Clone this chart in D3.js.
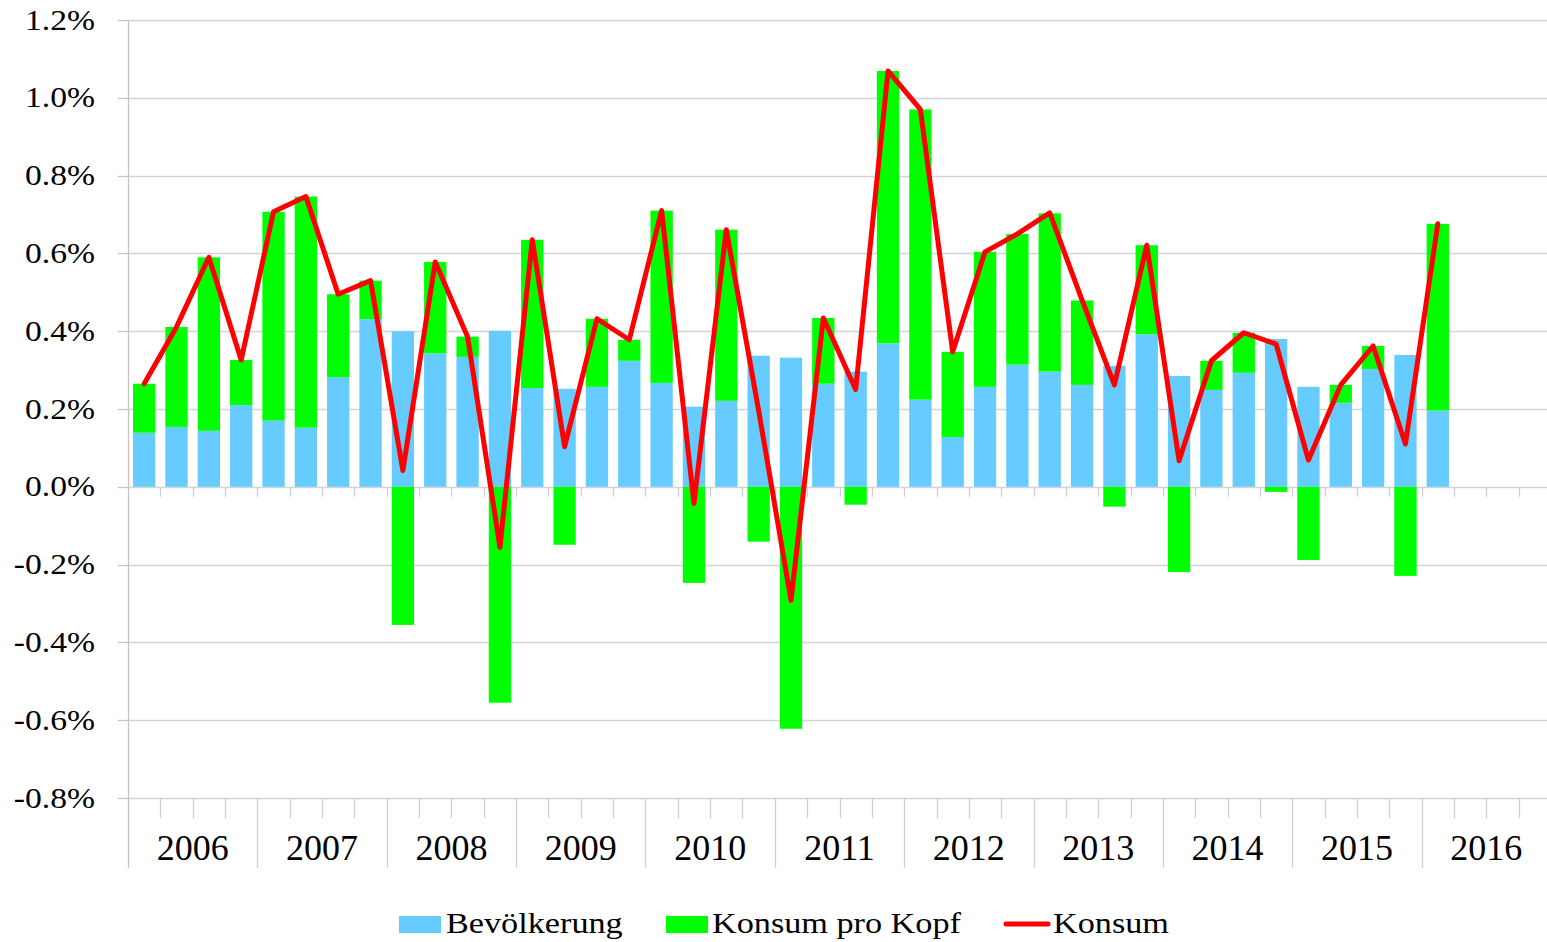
<!DOCTYPE html>
<html>
<head>
<meta charset="utf-8">
<script src="https://cdn.jsdelivr.net/npm/d3@7"></script>
<style>
    body { margin: 0; background: #fff; }
    svg { display: block; }
</style>
</head>
<body>
<svg id="chart" width="1547" height="942"></svg>
<script>
// values, in percent
const years = ['2006', '2007', '2008', '2009', '2010', '2011', '2012', '2013', '2014', '2015', '2016'];
const quarterNames = ['Q1', 'Q2', 'Q3', 'Q4'];
const bevoelkerung = [
    0.139, 0.154, 0.144, 0.210, 0.170, 0.152, 0.282, 0.431,
    0.400, 0.343, 0.334, 0.401, 0.254, 0.252, 0.257, 0.324,
    0.267, 0.206, 0.221, 0.337, 0.332, 0.265, 0.296, 0.369,
    0.224, 0.128, 0.257, 0.314, 0.296, 0.262, 0.311, 0.392,
    0.285, 0.249, 0.293, 0.380, 0.257, 0.216, 0.303, 0.339,
    0.196
];
const konsumProKopf = [
    0.126, 0.257, 0.446, 0.116, 0.537, 0.594, 0.213, 0.099,
    -0.355, 0.235, 0.052, -0.555, 0.381, -0.149, 0.175, 0.054,
    0.443, -0.247, 0.440, -0.141, -0.622, 0.169, -0.046, 0.700,
    0.746, 0.219, 0.347, 0.336, 0.407, 0.217, -0.051, 0.229,
    -0.219, 0.075, 0.103, -0.013, -0.188, 0.046, 0.059, -0.229,
    0.480
];
const konsum = [
    0.265, 0.411, 0.590, 0.326, 0.707, 0.746, 0.495, 0.530,
    0.042, 0.578, 0.386, -0.156, 0.635, 0.103, 0.432, 0.378,
    0.710, -0.043, 0.661, 0.196, -0.292, 0.434, 0.250, 1.069,
    0.970, 0.347, 0.604, 0.650, 0.704, 0.480, 0.262, 0.621,
    0.067, 0.324, 0.396, 0.367, 0.069, 0.262, 0.362, 0.110,
    0.676
];
const yTicks = [-0.8, -0.6, -0.4, -0.2, 0, 0.2, 0.4, 0.6, 0.8, 1.0, 1.2];

const categories = years.flatMap((y) => quarterNames.map((q) => y + q));

function renderChart() {
    const svg = d3.select('#chart');
    const left = 128,
        right = 1551,
        top = 20,
        bottom = 798;

    const x = d3
        .scaleBand()
        .domain(categories)
        .range([left, right])
        .paddingInner(0.31)
        .paddingOuter(0.155);
    const step = x.step();
    const y = d3.scaleLinear().domain([-0.8, 1.2]).range([bottom, top]);

    const rows = bevoelkerung.map((b, i) => ({
        cat: categories[i],
        bev: b,
        kpk: konsumProKopf[i],
    }));

    // gridlines
    svg.append('g')
        .selectAll('line')
        .data(yTicks)
        .enter()
        .append('line')
        .attr('x1', left)
        .attr('x2', right)
        .attr('y1', (d) => Math.round(y(d)) + 0.5)
        .attr('y2', (d) => Math.round(y(d)) + 0.5)
        .attr('stroke', '#d4d4d4')
        .attr('stroke-width', 1.3);

    // y axis line + ticks
    svg.append('line')
        .attr('x1', left + 0.5)
        .attr('x2', left + 0.5)
        .attr('y1', top)
        .attr('y2', 868)
        .attr('stroke', '#c4c4c4')
        .attr('stroke-width', 1.3);
    svg.append('g')
        .selectAll('line')
        .data(yTicks)
        .enter()
        .append('line')
        .attr('x1', left - 10)
        .attr('x2', left)
        .attr('y1', (d) => Math.round(y(d)) + 0.5)
        .attr('y2', (d) => Math.round(y(d)) + 0.5)
        .attr('stroke', '#c4c4c4')
        .attr('stroke-width', 1.3);

    // y labels (slightly wide glyphs like the original), plain hyphen for minus
    svg.append('g')
        .selectAll('text')
        .data(yTicks)
        .enter()
        .append('text')
        .attr('transform', (d) => `translate(95,${y(d) + 9.5}) scale(1.16,1)`)
        .attr('text-anchor', 'end')
        .style('font', '29px "Liberation Serif", serif')
        .attr('fill', '#000')
        .text((d) => d3.format('.1f')(d).replace('\u2212', '-') + '%');

    // category ticks on the zero line and in the label box
    const bounds = d3.range(1, categories.length + 1);
    svg.append('g')
        .selectAll('line')
        .data(bounds)
        .enter()
        .append('line')
        .attr('x1', (i) => Math.round(left + i * step) + 0.5)
        .attr('x2', (i) => Math.round(left + i * step) + 0.5)
        .attr('y1', y(0))
        .attr('y2', y(0) + 10)
        .attr('stroke', '#d0d0d0')
        .attr('stroke-width', 1.3);
    svg.append('g')
        .selectAll('line')
        .data(bounds)
        .enter()
        .append('line')
        .attr('x1', (i) => Math.round(left + i * step) + 0.5)
        .attr('x2', (i) => Math.round(left + i * step) + 0.5)
        .attr('y1', bottom)
        .attr('y2', (i) => (i % 4 === 0 ? 868 : 818))
        .attr('stroke', '#d0d0d0')
        .attr('stroke-width', 1.3);

    svg.append('g')
        .selectAll('text')
        .data(years)
        .enter()
        .append('text')
        .attr('x', (d, i) => left + (i * 4 + 2) * step)
        .attr('y', 860)
        .attr('text-anchor', 'middle')
        .style('font', '36px "Liberation Serif", serif')
        .attr('fill', '#000')
        .text((d) => d);

    // stacked bars, negatives go below zero
    const series = d3
        .stack()
        .keys(['bev', 'kpk'])
        .offset(d3.stackOffsetDiverging)(rows);
    const colors = { bev: '#66ccff', kpk: '#00ff00' };

    svg.append('g')
        .selectAll('g')
        .data(series)
        .enter()
        .append('g')
        .attr('fill', (s) => colors[s.key])
        .selectAll('rect')
        .data((s) => s)
        .enter()
        .append('rect')
        .attr('x', (d) => x(d.data.cat))
        .attr('width', x.bandwidth())
        .attr('y', (d) => y(Math.max(d[0], d[1])))
        .attr('height', (d) => Math.abs(y(d[0]) - y(d[1])));

    // Konsum line
    const line = d3
        .line()
        .x((d, i) => x(categories[i]) + x.bandwidth() / 2)
        .y((d) => y(d));
    svg.append('path')
        .datum(konsum)
        .attr('fill', 'none')
        .attr('stroke', '#ff0000')
        .attr('stroke-width', 5)
        .attr('stroke-linejoin', 'round')
        .attr('stroke-linecap', 'round')
        .attr('d', line);

    // legend
    const legend = svg.append('g');
    legend.append('rect')
        .attr('x', 399).attr('y', 916).attr('width', 42).attr('height', 17)
        .attr('fill', colors.bev);
    legend.append('rect')
        .attr('x', 666).attr('y', 916).attr('width', 42).attr('height', 17)
        .attr('fill', colors.kpk);
    legend.append('line')
        .attr('x1', 1006).attr('x2', 1048).attr('y1', 924).attr('y2', 924)
        .attr('stroke', '#ff0000')
        .attr('stroke-width', 5)
        .attr('stroke-linecap', 'round');
    const labels = [
        { x: 446, t: 'Bevölkerung' },
        { x: 712, t: 'Konsum pro Kopf' },
        { x: 1053, t: 'Konsum' },
    ];
    legend.selectAll('text')
        .data(labels)
        .enter()
        .append('text')
        .attr('transform', (d) => `translate(${d.x},933) scale(1.18,1)`)
        .style('font', '29px "Liberation Serif", serif')
        .attr('fill', '#000')
        .text((d) => d.t);
}

renderChart();
</script>
</body>
</html>
